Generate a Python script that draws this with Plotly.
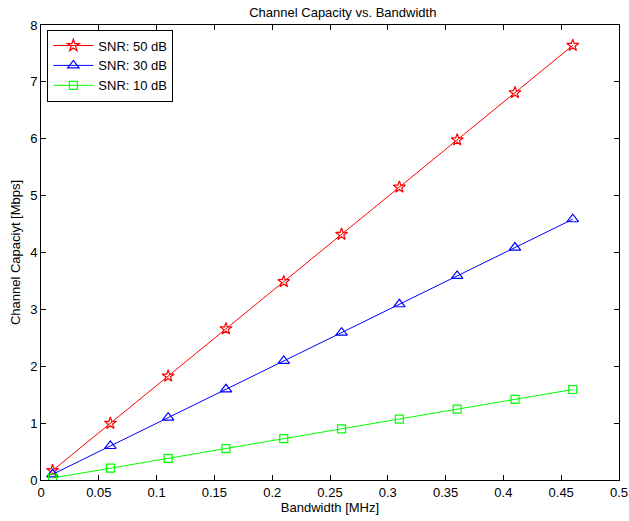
import plotly.graph_objects as go

bandwidth = [0.01, 0.06, 0.11, 0.16, 0.21, 0.26, 0.31, 0.36, 0.41, 0.46]
cap_50db = [0.166, 0.997, 1.827, 2.658, 3.488, 4.319, 5.149, 5.980, 6.810, 7.641]
cap_30db = [0.100, 0.598, 1.096, 1.595, 2.093, 2.591, 3.090, 3.588, 4.087, 4.585]
cap_10db = [0.035, 0.208, 0.380, 0.553, 0.726, 0.899, 1.072, 1.245, 1.418, 1.591]

x_ticks = [0, 0.05, 0.1, 0.15, 0.2, 0.25, 0.3, 0.35, 0.4, 0.45, 0.5]
x_labels = ["0", "0.05", "0.1", "0.15", "0.2", "0.25", "0.3", "0.35", "0.4", "0.45", "0.5"]
y_ticks = [0, 1, 2, 3, 4, 5, 6, 7, 8]

fig = go.Figure()
series = [
    ("SNR: 50 dB", cap_50db, "#ff0000", "star-open", 9),
    ("SNR: 30 dB", cap_30db, "#0000ff", "triangle-up-open", 10),
    ("SNR: 10 dB", cap_10db, "#00ff00", "square-open", 8),
]
for name, ys, color, sym, sz in series:
    fig.add_trace(go.Scatter(
        x=bandwidth, y=ys, name=name, mode="lines+markers",
        line=dict(color=color, width=1),
        marker=dict(symbol=sym, size=sz, color=color, line=dict(color=color, width=1.2)),
    ))

font = "Liberation Sans, Arial, Helvetica, sans-serif"
axis_common = dict(
    showgrid=False, zeroline=False, showline=True, linecolor="black", linewidth=1,
    mirror="ticks", ticks="inside", ticklen=5, tickcolor="black", automargin=False,
    tickfont=dict(family=font, size=13, color="black"),
)
fig.update_layout(
    width=629, height=521,
    margin=dict(l=41, r=10, t=25, b=41),
    paper_bgcolor="white", plot_bgcolor="white",
    title=dict(text="Channel Capacity vs. Bandwidth", x=0.545, xanchor="center",
               y=1 - 12 / 521, yanchor="middle",
               font=dict(family=font, size=13, color="black")),
    xaxis=dict(range=[0, 0.5], tickvals=x_ticks, ticktext=x_labels,
               title=dict(text="Bandwidth [MHz]", font=dict(family=font, size=13, color="black"), standoff=3),
               **axis_common),
    yaxis=dict(range=[0, 8], tickvals=y_ticks,
               title=dict(text="Channel Capaciyt [Mbps]", font=dict(family=font, size=13, color="black"), standoff=6),
               **axis_common),
    legend=dict(x=0.011, y=0.99, xanchor="left", yanchor="top",
                bgcolor="white", bordercolor="black", borderwidth=1,
                font=dict(family=font, size=13, color="black"),
                tracegroupgap=0, itemwidth=40),
    showlegend=True,
)

fig.write_html("out.html")
